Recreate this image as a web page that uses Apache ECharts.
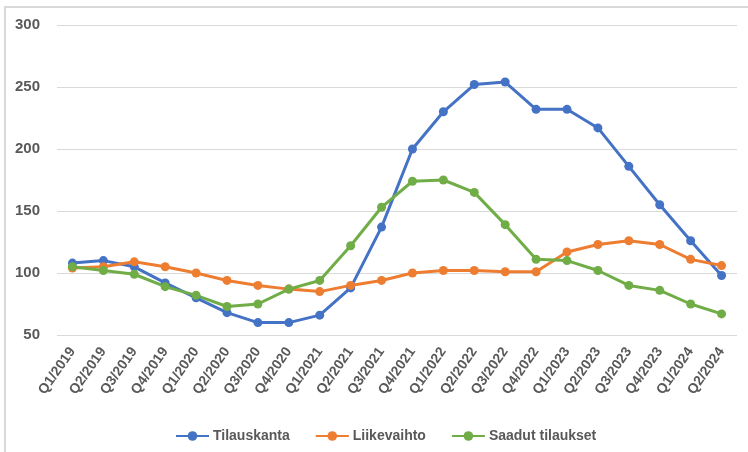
<!DOCTYPE html>
<html>
<head>
<meta charset="utf-8">
<script src="https://cdn.jsdelivr.net/npm/echarts@6/dist/echarts.min.js"></script>
<style>
html,body{margin:0;padding:0;background:#fff;}
#frame{position:absolute;left:4px;top:6px;width:744px;height:446px;border-top:2px solid #d9d9d9;border-left:2px solid #d9d9d9;box-sizing:border-box;}
#chart{position:absolute;left:0;top:0;width:748px;height:452px;}
</style>
</head>
<body>
<div id="frame"></div>
<div id="chart"></div>
<script>
const categories = ['Q1/2019','Q2/2019','Q3/2019','Q4/2019','Q1/2020','Q2/2020','Q3/2020','Q4/2020','Q1/2021','Q2/2021','Q3/2021','Q4/2021','Q1/2022','Q2/2022','Q3/2022','Q4/2022','Q1/2023','Q2/2023','Q3/2023','Q4/2023','Q1/2024','Q2/2024'];
const tilauskanta = [108,110,105,92,80,68,60,60,66,88,137,200,230,252,254,232,232,217,186,155,126,98];
const liikevaihto = [104,105,109,105,100,94,90,87,85,90,94,100,102,102,101,101,117,123,126,123,111,106];
const saadutTilaukset = [105,102,99,89,82,73,75,87,94,122,153,174,175,165,139,111,110,102,90,86,75,67];
const seriesNames = ['Tilauskanta','Liikevaihto','Saadut tilaukset'];
const colors = ['#4472C4','#ED7D31','#70AD47'];

const chart = echarts.init(document.getElementById('chart'), null, {renderer:'canvas'});
const mk = (name, data, color) => ({
  name, type:'line', data, color,
  symbol:'circle', symbolSize:9,
  lineStyle:{width:3, color},
  itemStyle:{color},
  emphasis:{disabled:true}
});
chart.setOption({
  animation:false,
  backgroundColor:'transparent',
  grid:{left:57, right:11, top:25, bottom:117, containLabel:false},
  xAxis:{
    type:'category', data:categories, boundaryGap:true,
    axisLine:{show:false}, axisTick:{show:false},
    axisLabel:{rotate:55, interval:0, margin:14, color:'#595959', fontSize:14, fontWeight:'bold', fontFamily:'Liberation Sans'}
  },
  yAxis:{
    type:'value', min:50, max:300, interval:50,
    axisLine:{show:false}, axisTick:{show:false},
    splitLine:{lineStyle:{color:'#d9d9d9', width:1}},
    axisLabel:{margin:17, color:'#595959', fontSize:15, fontWeight:'bold', fontFamily:'Liberation Sans'}
  },
  legend:{
    data:seriesNames, left:170, top:424,
    itemWidth:33, itemHeight:12, itemGap:25,
    textStyle:{color:'#595959', fontSize:14, fontWeight:'bold', fontFamily:'Liberation Sans', padding:[0,0,0,-1]}
  },
  series:[
    mk(seriesNames[0], tilauskanta, colors[0]),
    mk(seriesNames[1], liikevaihto, colors[1]),
    mk(seriesNames[2], saadutTilaukset, colors[2])
  ]
});
</script>
</body>
</html>
